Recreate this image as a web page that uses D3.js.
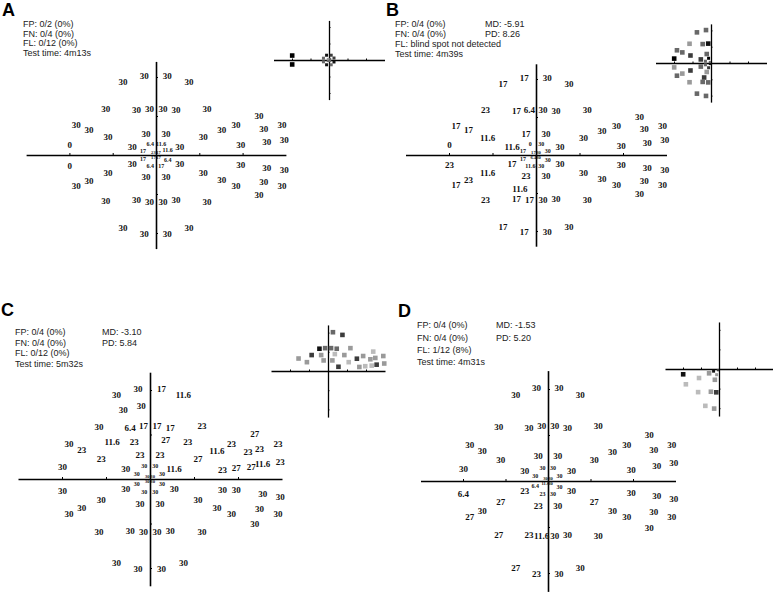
<!DOCTYPE html>
<html><head><meta charset="utf-8">
<script src="https://cdn.jsdelivr.net/npm/d3@7"></script>
<style>
body{margin:0;background:#fff;}
svg{display:block;}
</style></head><body>
<svg id="chart" width="773" height="593"></svg>
<script>
// ---- DATA: [x (deg), y (deg, up positive), sensitivity (dB), optional inset flag] ----
const pointsA = [
 [-7.6,18.8,30],[-2.7,20.2,30],[2.6,20.2,30],[7.6,18.8,30],
 [-11.6,11.8,30],[-4.5,11.6,30],[-1.5,11.9,30],[1.6,11.9,30],[4.6,11.6,30],[11.8,11.9,30],[23.8,10.1,30],
 [-18.4,7.8,30],[-15.5,6.5,30],[-11.1,4.6,30],[-2.3,5.5,30],[2.3,5.5,30],[10.9,4.6,30],[15.2,6.4,30],[18.5,7.8,30],[24.9,6.8,30],[29.1,7.8,30],
 [-19.9,2.7,0],[-5.5,2.2,30],[5.5,2.2,30],[19.6,2.5,30],[25.6,3.3,30],[29.6,3.9,30],
 [-1.3,2.9,6.4],[1.2,2.9,11.6],[-3,1.1,17],[2.7,1.2,11.6],
 [-0.6,0.6,23],[0.6,0.6,17],
 [-0.6,-0.6,17],[0.6,-0.6,17],
 [-3,-1.1,17],[2.7,-1.2,6.4],[-1.3,-2.9,6.4],[1.2,-2.9,17],
 [-19.9,-2.7,0],[-5.5,-2.2,30],[5.5,-2.2,30],[19.6,-2.5,30],[25.6,-3.3,30],[29.6,-3.9,30],
 [-18.4,-7.8,30],[-15.5,-6.5,30],[-11.1,-4.6,30],[-2.3,-5.5,30],[2.3,-5.5,30],[10.9,-4.6,30],[15.2,-6.4,30],[18.5,-7.8,30],[24.9,-6.8,30],[29.1,-7.8,30],
 [-11.6,-11.8,30],[-4.5,-11.6,30],[-1.5,-11.9,30],[1.6,-11.9,30],[4.6,-11.6,30],[11.8,-11.9,30],[23.8,-10.1,30],
 [-7.6,-18.8,30],[-2.7,-20.2,30],[2.6,-20.2,30],[7.6,-18.8,30]
];
const pointsB = [
 [-7.6,18.8,17],[-2.7,20.2,17],[2.6,20.2,30],[7.6,18.8,30],
 [-11.6,11.8,23],[-4.5,11.6,17],[-1.5,11.9,6.4],[1.6,11.9,30],[4.6,11.6,30],[11.8,11.9,30],[23.8,10.1,30],
 [-18.4,7.8,17],[-15.5,6.5,17],[-11.1,4.6,11.6],[-2.3,5.5,17],[2.3,5.5,30],[10.9,4.6,30],[15.2,6.4,30],[18.5,7.8,30],[24.9,6.8,30],[29.1,7.8,30],
 [-19.9,2.7,0],[-5.5,2.2,11.6],[5.5,2.2,30],[19.6,2.5,30],[25.6,3.3,30],[29.6,3.9,30],
 [-1.3,2.9,0],[1.2,2.9,30],[-3,1.1,17],[2.7,1.2,30],
 [-0.6,0.6,17],[0.6,0.6,30],
 [-0.6,-0.6,6.4],[0.6,-0.6,30],
 [-3,-1.1,17],[2.7,-1.2,30],[-1.3,-2.9,11.6],[1.2,-2.9,30],
 [-19.9,-2.7,23],[-5.5,-2.2,17],[5.5,-2.2,30],[19.6,-2.5,30],[25.6,-3.3,30],[29.6,-3.9,30],
 [-18.4,-7.8,17],[-15.5,-6.5,23],[-11.1,-4.6,11.6],[-2.3,-5.5,23],[2.3,-5.5,30],[10.9,-4.6,30],[15.2,-6.4,30],[18.5,-7.8,30],[24.9,-6.8,30],[29.1,-7.8,30],
 [-3.7,-8.9,11.6],
 [-11.6,-11.8,23],[-4.5,-11.6,17],[-1.5,-11.9,17],[1.6,-11.9,30],[4.6,-11.6,30],[11.8,-11.9,30],[23.8,-10.1,30],
 [-7.6,-18.8,17],[-2.7,-20.2,17],[2.6,-20.2,30],[7.6,-18.8,30]
];
const pointsC = [
 [-7.6,18.8,30],[-2.7,20.2,30],[2.6,20.2,17],[7.6,18.8,11.6],
 [-6.1,15.5,30],[-2,16.4,30],
 [-11.6,11.8,30],[-4.5,11.6,6.4],[-1.5,11.9,17],[1.6,11.9,17],[4.6,11.6,17],[11.8,11.9,23],[23.8,10.1,27],
 [-8.6,8.3,11.6],[-3.6,8.3,23],[3.6,8.8,27],[8.6,8.3,23],
 [-18.4,7.8,30],[-15.5,6.5,23],[-11.1,4.6,23],[-2.3,5.5,23],[2.3,5.5,23],[10.9,4.6,27],[15.2,6.4,11.6],[18.5,7.8,23],[22.3,6.1,23],[24.9,6.8,23],[29.1,7.8,23],
 [-19.9,2.7,30],[-5.5,2.2,30],[5.5,2.2,11.6],[16.5,2.1,23],[19.6,2.5,27],[23,2.8,27],[25.6,3.3,11.6],[29.6,3.9,23],
 [-1.3,2.9,30],[1.2,2.9,30],[-3,1.1,30],[2.7,1.2,30],
 [-0.6,0.6,30],[0.6,0.6,30],
 [-0.6,-0.6,30],[0.6,-0.6,30],
 [-3,-1.1,30],[2.7,-1.2,30],[-1.3,-2.9,30],[1.2,-2.9,30],
 [-19.9,-2.7,30],[-5.5,-2.2,30],[5.5,-2.2,30],[16.5,-2.4,30],[19.6,-2.5,30],[25.6,-3.3,30],[29.6,-3.9,30],
 [-18.4,-7.8,30],[-15.5,-6.5,30],[-11.1,-4.6,30],[-2.3,-5.5,30],[2.3,-5.5,30],[10.9,-4.6,30],[15.2,-6.4,30],[18.5,-7.8,30],[24.9,-6.8,30],[29.1,-7.8,30],
 [-11.6,-11.8,30],[-4.5,-11.6,30],[-1.5,-11.9,30],[1.6,-11.9,30],[4.6,-11.6,30],[11.8,-11.9,30],[23.8,-10.1,30],
 [-7.6,-18.8,30],[-2.7,-20.2,30],[2.6,-20.2,30],[7.6,-18.8,30]
];
const pointsD = [
 [-7.6,18.8,30],[-2.7,20.2,30],[2.6,20.2,30],[7.6,18.8,30],
 [-11.6,11.8,30],[-4.5,11.6,30],[-1.5,11.9,30],[1.6,11.9,30],[4.6,11.6,30],[11.8,11.9,30],[23.8,10.1,30],
 [-18.4,7.8,30],[-15.5,6.5,30],[-11.1,4.6,30],[-2.3,5.5,30],[2.3,5.5,30],[10.9,4.6,30],[15.2,6.4,30],[18.5,7.8,30],[24.9,6.8,30],[29.1,7.8,30],
 [-19.9,2.7,30],[-5.5,2.2,30],[5.5,2.2,30],[19.6,2.5,30],[25.6,3.3,30],[29.6,3.9,30],
 [-1.3,2.9,30],[1.2,2.9,30],[-3,1.1,30],[2.7,1.2,30],
 [-0.6,0.6,30],[0.6,0.6,30],
 [-0.6,-0.6,11.6],[0.6,-0.6,30],
 [-3,-1.1,6.4],[2.7,-1.2,30],[-1.3,-2.9,23],[1.2,-2.9,30],
 [-19.9,-2.7,6.4],[-5.5,-2.2,23],[5.5,-2.2,30],[19.6,-2.5,30],[25.6,-3.3,30],[29.6,-3.9,30],
 [-18.4,-7.8,27],[-15.5,-6.5,30],[-11.1,-4.6,27],[-2.3,-5.5,23],[2.3,-5.5,30],[10.9,-4.6,27,0],[15.2,-6.4,30],[18.5,-7.8,30],[24.9,-6.8,30],[29.1,-7.8,30],
 [-11.6,-11.8,27],[-4.5,-11.6,23],[-1.5,-11.9,11.6],[1.6,-11.9,30],[4.6,-11.6,30],[11.8,-11.9,30],[23.8,-10.1,30],
 [-7.6,-18.8,27],[-2.7,-20.2,23],[2.6,-20.2,30],[7.6,-18.8,30]
];
const infoA = ["FP: 0/2 (0%)","FN: 0/4 (0%)","FL: 0/12 (0%)","Test time: 4m13s"];
const infoB = ["FP: 0/4 (0%)","FN: 0/4 (0%)","FL: blind spot not detected","Test time: 4m39s"];
const infoC = ["FP: 0/4 (0%)","FN: 0/4 (0%)","FL: 0/12 (0%)","Test time: 5m32s"];
const infoD = ["FP: 0/4 (0%)","FN: 0/4 (0%)","FL: 1/12 (8%)","Test time: 4m31s"];
const indicesB = ["MD: -5.91","PD: 8.26"];
const indicesC = ["MD: -3.10","PD: 5.84"];
const indicesD = ["MD: -1.53","PD: 5.20"];
const tickValues = [-20,-10,10,20];

// ---- LAYOUT ----
const panels = [
 {letter:"A", lp:[2,16], pts:pointsA, info:infoA, ix:23, iy:[24,33.5,43,53], idx:null,
  main:{cx:156,cy:155,kx:4.33,ky:3.9}, inset:{cx:329,cy:60,kx:1.85,ky:1.65}},
 {letter:"B", lp:[386,16], pts:pointsB, info:infoB, ix:395, iy:[24,33.5,43.5,53.5], idx:indicesB, mx:485,
  main:{cx:536,cy:155,kx:4.35,ky:3.8}, inset:{cx:711,cy:63,kx:1.85,ky:1.63}},
 {letter:"C", lp:[1,316], pts:pointsC, info:infoC, ix:15, iy:[332,342.5,353,364], idx:indicesC, mx:102,
  main:{cx:150,cy:479,kx:4.4,ky:4.45}, inset:{cx:328,cy:371,kx:1.9,ky:1.92}},
 {letter:"D", lp:[398,317], pts:pointsD, info:infoD, ix:417, iy:[325,338,350,362], idx:indicesD, mx:496,
  main:{cx:548,cy:481,kx:4.25,ky:4.6}, inset:{cx:719,cy:369,kx:1.8,ky:1.96}}
];

const svg = d3.select("#chart");
const shade = d3.scaleLinear().domain([6.4,27]).range(["#111","#bbb"]).clamp(true);
function kind(p){const ax=Math.abs(p[0]),ay=Math.abs(p[1]); if(ax<1&&ay<1) return "inner"; if(ax<3.5&&ay<3.5) return "ring"; return "main";}
const fontSize={main:9,ring:6,inner:4.6};
const sqSize={main:4.6,ring:3,inner:2.2};

function drawAxes(g, x, y, cx, cy, tick, w){
  const h = g.append("g").attr("transform",`translate(0,${cy})`)
    .call(d3.axisTop(x).tickValues(tickValues).tickSize(tick).tickSizeOuter(0).tickFormat(""));
  const v = g.append("g").attr("transform",`translate(${cx},0)`)
    .call(d3.axisRight(y).tickValues(tickValues).tickSize(tick).tickSizeOuter(0).tickFormat(""));
  [h,v].forEach(a=>{
    a.select(".domain").attr("stroke","#000").attr("stroke-width",w);
    a.selectAll(".tick line").attr("stroke","#000").attr("stroke-width",1);
  });
}

panels.forEach(pn=>{
  const g = svg.append("g");
  g.append("text").attr("x",pn.lp[0]).attr("y",pn.lp[1]).text(pn.letter)
    .attr("font-family","Liberation Sans, Arial, sans-serif").attr("font-weight","bold").attr("font-size",18).attr("fill","#000");
  g.selectAll("text.info").data(pn.info).join("text").attr("class","info")
    .attr("x",pn.ix).attr("y",(d,i)=>pn.iy[i]).attr("dy","0.35em").text(d=>d)
    .attr("font-family","Liberation Sans, Arial, sans-serif").attr("font-size",9).attr("fill","#222");
  if(pn.idx){
    g.selectAll("text.idx").data(pn.idx).join("text").attr("class","idx")
      .attr("x",pn.mx).attr("y",(d,i)=>pn.iy[i]).attr("dy","0.35em").text(d=>d)
      .attr("font-family","Liberation Sans, Arial, sans-serif").attr("font-size",9).attr("fill","#222");
  }
  // main plot
  const m = pn.main;
  const x = d3.scaleLinear().domain([-30,30]).range([m.cx-30*m.kx, m.cx+30*m.kx]);
  const y = d3.scaleLinear().domain([-24,24]).range([m.cy+24*m.ky, m.cy-24*m.ky]);
  drawAxes(g, x, y, m.cx, m.cy, 2, 1.6);
  g.selectAll("text.val").data(pn.pts).join("text").attr("class","val")
    .attr("x",d=>x(d[0])).attr("y",d=>y(d[1])).attr("dy","0.35em")
    .attr("text-anchor","middle")
    .attr("font-family","Liberation Serif, Times New Roman, serif").attr("font-weight","bold")
    .attr("font-size",d=>fontSize[kind(d)]).attr("fill","#111")
    .text(d=>String(d[2]));
  // inset deviation map
  const s = pn.inset;
  const xi = d3.scaleLinear().domain([-30,30]).range([s.cx-30*s.kx, s.cx+30*s.kx]);
  const yi = d3.scaleLinear().domain([-24,24]).range([s.cy+24*s.ky, s.cy-24*s.ky]);
  drawAxes(g, xi, yi, s.cx, s.cy, 1.5, 1.3);
  const def = pn.pts.filter(d=>d[2]<30 && d[3]!==0);
  g.selectAll("rect.sq").data(def).join("rect").attr("class","sq")
    .attr("x",d=>xi(d[0])-sqSize[kind(d)]/2).attr("y",d=>yi(d[1])-sqSize[kind(d)]/2)
    .attr("width",d=>sqSize[kind(d)]).attr("height",d=>sqSize[kind(d)])
    .attr("fill",d=>d[2]<=0?"#000":shade(d[2]));
});
</script>
</body></html>
